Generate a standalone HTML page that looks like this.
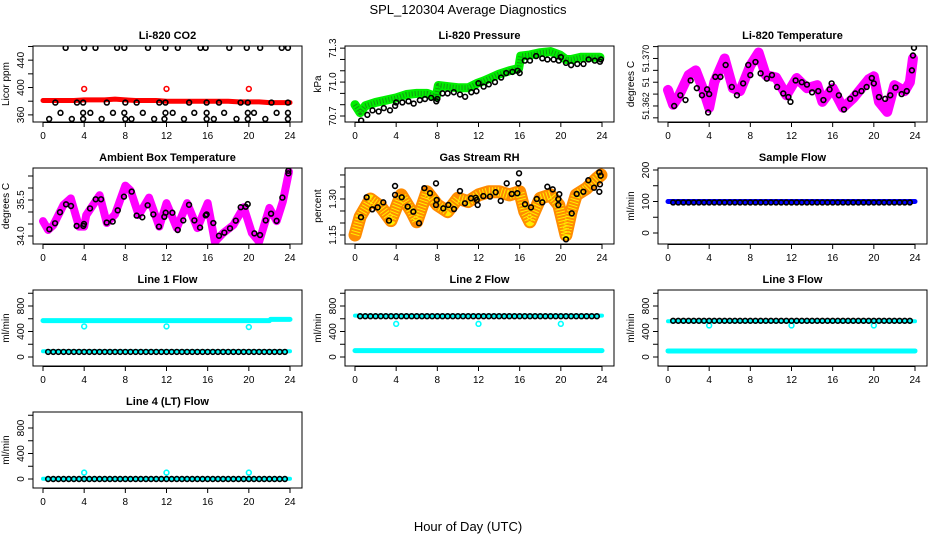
<!DOCTYPE html>
<html><head><meta charset="utf-8"><style>
body{margin:0;background:#fff}
svg{display:block;font-family:"Liberation Sans",sans-serif}
</style></head><body>
<svg id="chart" width="936" height="540" viewBox="0 0 936 540">
<rect width="936" height="540" fill="#fff"/>
<text x="468" y="14" text-anchor="middle" font-size="13">SPL_120304  Average Diagnostics</text>
<text x="468" y="531" text-anchor="middle" font-size="13">Hour of Day (UTC)</text>
</svg>
<script>
// ---------- data ----------
const xTicks=[0,4,8,12,16,20,24];
const T47=[0.5,1,1.5,2,2.5,3,3.5,4,4.5,5,5.5,6,6.5,7,7.5,8,8.5,9,9.5,10,10.5,11,11.5,12,12.5,13,13.5,14,14.5,15,15.5,16,16.5,17,17.5,18,18.5,19,19.5,20,20.5,21,21.5,22,22.5,23,23.5];

const co2RedX=[0,1,2,3,4,5,6,7,8,9,10,11,12,13,14,15,16,17,18,19,20,21,22,23,24];
const co2RedY=[381,381,381,381,382,382,382,383,382,381,381,381,380,380,380,380,380,380,380,379,379,379,378,378,378];
const co2OutX=[4,12,20];
const co2OutY=[398,398,398];
const co2BlackX=[2.2,4.0,5.1,7.2,7.9,10.2,11.9,13.1,15.3,15.8,18.1,19.8,21.1,23.2,23.8,
1.2,3.3,3.9,6.2,8.0,9.1,11.3,11.9,14.2,15.9,17.1,19.2,19.9,22.2,23.8,
1.7,3.9,4.6,6.8,7.9,9.7,11.9,12.6,14.7,15.9,17.6,19.9,20.5,22.7,23.8,
0.6,2.8,3.9,5.7,8.0,8.6,10.8,11.8,13.7,15.9,16.6,18.8,19.9,21.6,23.8];
const co2BlackY=[458,458,458,458,458,458,458,458,458,458,458,458,458,458,458,
378,378,378,378,378,378,378,378,378,378,378,378,378,378,378,
363,363,363,363,363,363,363,363,363,363,363,363,363,363,363,
354,354,354,354,354,354,354,354,354,354,354,354,354,354,354];

const presGreenX=[0,0.5,1,2,3,4,5,6,7,7.9,8.1,9,10,11,11.9,12.5,13,14,15,15.9,16.1,17,18,19,19.9,20.5,21,22,23,23.8];
const presGreenY=[70.80,70.73,70.79,70.82,70.84,70.86,70.89,70.90,70.90,70.87,70.97,70.96,70.95,70.95,70.99,71.01,71.03,71.07,71.10,71.12,71.23,71.24,71.26,71.27,71.24,71.20,71.20,71.22,71.22,71.22];
const presBlackX=[0.6,1.2,1.7,2.3,2.8,3.4,3.9,4.0,4.6,5.2,5.7,6.3,6.8,7.4,7.9,8.0,8.5,9.0,9.6,10.2,10.7,11.3,11.8,12.0,12.5,13.0,13.6,14.2,14.7,15.3,15.8,16.0,16.5,17.0,17.6,18.2,18.7,19.3,19.8,20.0,20.5,21.0,21.6,22.2,22.7,23.3,23.8,23.9];
const presBlackY=[70.66,70.71,70.75,70.74,70.77,70.75,70.79,70.82,70.82,70.83,70.81,70.84,70.85,70.86,70.83,70.85,70.90,70.90,70.91,70.89,70.87,70.91,70.92,70.99,70.96,70.98,71.00,71.04,71.08,71.09,71.10,71.08,71.19,71.19,71.23,71.21,71.20,71.20,71.19,71.22,71.17,71.15,71.16,71.16,71.20,71.19,71.18,71.20];

const tempMagX=[0,0.5,1,2,2.7,3.5,4,4.5,5.5,6.3,7,8,8.8,9.5,10.5,11.5,12.5,13.5,14.5,15,16,17,18,19.5,20,20.5,21.3,22,23,23.5,23.8];
const tempMagY=[51.3647,51.3622,51.3635,51.3672,51.368,51.3644,51.3617,51.366,51.370,51.365,51.3645,51.3688,51.371,51.3672,51.3668,51.3638,51.3667,51.3650,51.3655,51.3627,51.3650,51.3617,51.3633,51.3665,51.3670,51.3627,51.3610,51.3655,51.3645,51.3660,51.370];
const tempBlackX=[0.6,1.2,1.7,2.2,2.8,3.3,3.8,3.9,4.0,4.6,5.1,5.6,6.2,6.7,7.3,7.8,8.0,8.5,9.0,9.6,10.1,10.6,11.2,11.7,11.9,12.4,13.0,13.5,14.0,14.6,15.1,15.7,15.9,16.6,17.1,17.7,18.2,18.8,19.3,19.8,20.0,20.5,21.1,21.6,22.1,22.7,23.2,23.7,23.8,23.9];
const tempBlackY=[51.3620,51.3638,51.3630,51.3663,51.3650,51.3638,51.3648,51.3609,51.3640,51.3669,51.3669,51.3689,51.3652,51.3638,51.3658,51.3689,51.3672,51.3694,51.3675,51.3666,51.3672,51.3652,51.3641,51.3635,51.3627,51.3663,51.3660,51.3656,51.3643,51.3645,51.3630,51.3648,51.3658,51.3638,51.3614,51.3632,51.3641,51.3645,51.3652,51.3667,51.3658,51.3635,51.3632,51.3638,51.3651,51.3640,51.3645,51.3680,51.3705,51.3718];

const ambMagX=[0,0.5,1,2,2.7,3.5,4,4.2,5.5,6.2,7,8,8.5,9.3,10.3,11.3,12,13,14,15,16,16.7,17.5,18.5,19.5,20.3,21,22,22.7,23.3,23.9];
const ambMagY=[34.62,34.25,34.45,35.3,35.57,34.39,34.39,34.87,35.7,34.54,34.9,36.1,35.9,34.87,35.6,34.39,35.37,34.33,35.37,34.33,35.37,33.76,34.12,34.46,35.2,34.12,33.76,35.17,34.62,35.43,36.68];
const ambBlackX=[0.62,1.17,1.65,2.24,2.72,3.27,3.92,3.98,4.57,5.12,5.64,6.19,6.77,7.26,7.87,8.62,9.1,9.65,10.17,10.72,11.27,11.79,11.92,12.57,13.09,13.63,14.19,14.71,15.26,15.81,15.9,16.55,17.1,17.62,18.17,18.73,19.21,19.7,19.89,20.54,21.09,21.64,22.16,22.7,23.26,23.84,23.84];
const ambBlackY=[34.28,34.53,34.99,35.32,35.25,34.42,34.42,34.5,35.15,35.53,35.53,34.56,34.6,35.07,35.64,35.85,34.85,34.78,35.28,34.9,34.39,34.8,34.97,34.97,34.25,34.65,35.3,34.65,34.35,34.86,34.9,34.54,34.01,34.14,34.32,34.64,35.2,35.22,35.33,34.11,34.04,34.65,34.93,34.63,35.6,36.72,36.61];

const rhOrX=[0,0.5,1.5,2.5,3.5,4.5,5.5,6,7,8,9,10,11,12,13,14,15,16,16.5,17,18,19,19.8,20.5,21,21.5,22.5,23.5,23.9];
const rhOrY=[1.15,1.226,1.30,1.268,1.21,1.317,1.247,1.205,1.33,1.275,1.247,1.303,1.289,1.317,1.33,1.33,1.317,1.33,1.247,1.205,1.303,1.317,1.275,1.15,1.247,1.317,1.344,1.386,1.40];
const rhBlackX=[0.58,1.13,1.68,2.2,2.75,3.3,3.89,3.89,4.54,5.12,5.67,6.22,6.74,7.29,7.87,7.87,7.94,8.58,9.07,9.62,10.2,10.69,11.27,11.73,11.83,11.92,12.47,13.12,13.67,14.16,14.74,15.23,15.77,15.87,15.94,16.52,17.1,17.66,18.2,18.69,19.21,19.76,19.76,19.85,20.5,21.06,21.54,22.19,22.67,23.23,23.74,23.8,23.74,23.87];
const rhBlackY=[1.224,1.307,1.257,1.265,1.286,1.21,1.317,1.354,1.307,1.268,1.247,1.199,1.345,1.324,1.365,1.275,1.296,1.261,1.275,1.258,1.333,1.282,1.303,1.305,1.296,1.275,1.312,1.31,1.328,1.292,1.365,1.321,1.324,1.365,1.407,1.278,1.265,1.3,1.286,1.351,1.34,1.3,1.275,1.32,1.132,1.24,1.321,1.33,1.378,1.347,1.33,1.361,1.411,1.397];

const flatX=[0,24];
const sampleBlueY=[100,100];
const sampleBlackY=[97,97,97,97,97,97,97,97,97,97,97,97,97,97,97,97,97,97,97,97,97,97,97,97,97,97,97,97,97,97,97,97,97,97,97,97,97,97,97,97,97,97,97,97,97,97,97];

const l1CyanTopX=[0,22,22.1,24];
const l1CyanTopY=[570,570,590,590];
const l1CyanLowY=[90,90];
const l1BlackY=[80,80,80,80,80,80,80,80,80,80,80,80,80,80,80,80,80,80,80,80,80,80,80,80,80,80,80,80,80,80,80,80,80,80,80,80,80,80,80,80,80,80,80,80,80,80,80];
const l1OutY=[480,480,470];

const l2CyanTopY=[650,650];
const l2CyanLowY=[100,100];
const l2BlackY=[640,640,640,640,640,640,640,640,640,640,640,640,640,640,640,640,640,640,640,640,640,640,640,640,640,640,640,640,640,640,640,640,640,640,640,640,640,640,640,640,640,640,640,640,640,640,640];
const l2OutY=[520,520,520];

const l3CyanTopY=[560,560];
const l3CyanLowY=[95,95];
const l3BlackY=[568,568,568,568,568,568,568,568,568,568,568,568,568,568,568,568,568,568,568,568,568,568,568,568,568,568,568,568,568,568,568,568,568,568,568,568,568,568,568,568,568,568,568,568,568,568,568];
const l3OutY=[495,495,495];

const l4CyanY=[5,5];
const l4BlackY=[0,0,0,0,0,0,0,0,0,0,0,0,0,0,0,0,0,0,0,0,0,0,0,0,0,0,0,0,0,0,0,0,0,0,0,0,0,0,0,0,0,0,0,0,0,0,0];
const l4OutY=[100,100,100];
const outX=[4,12,20];

// ---------- drawing ----------
const NS="http://www.w3.org/2000/svg";
const svg=document.getElementById('chart');
const COLX=[43,355,668], ROWT=[46,168,290,412], PH=76, PW=247;
function mk(tag,attrs,parent){const e=document.createElementNS(NS,tag);for(const k in attrs)e.setAttribute(k,attrs[k]);(parent||svg).appendChild(e);return e;}

function panel(cfg){
  const x0=COLX[cfg.c], top=ROWT[cfg.r], bot=top+PH;
  const g=mk('g',{});
  
  
  const sx=h=>x0+h/24*PW;
  const sy=v=>bot-(v-cfg.ymin)/(cfg.ymax-cfg.ymin)*PH;
  const left=x0-10,right=x0+259;
  const t=mk('text',{x:(left+right)/2,y:top-7,'text-anchor':'middle','font-size':11,'font-weight':'bold'},g);
  t.textContent=cfg.title;
  
  
  xTicks.forEach(h=>{
    mk('line',{x1:sx(h),x2:sx(h),y1:bot,y2:bot+5,stroke:'#000'},g);
    const l=mk('text',{x:sx(h),y:bot+17,'text-anchor':'middle','font-size':10},g);
    l.textContent=h;
    
    
  });
  mk('line',{x1:sx(0),x2:sx(24),y1:bot+0.5,y2:bot+0.5,stroke:'#000'},g);
  cfg.yTicks.forEach(v=>mk('line',{x1:left-5,x2:left,y1:sy(v),y2:sy(v),stroke:'#000'},g));
  cfg.yLabels.forEach((v,i)=>{
    const yy=sy(v);
    const l=mk('text',{x:left-9,y:yy,'text-anchor':'middle','font-size':cfg.yfs||10,transform:`rotate(-90 ${left-9} ${yy})`},g);
    l.textContent=cfg.yLabelText?cfg.yLabelText[i]:v;
    
    
  });
  const yt=mk('text',{x:left-24,y:(top+bot)/2,'text-anchor':'middle','font-size':10,transform:`rotate(-90 ${left-24} ${(top+bot)/2})`},g);
  yt.textContent=cfg.ylab;
  
  
  const cid='clip'+cfg.c+cfg.r;
  const cp=mk('clipPath',{id:cid},g);
  mk('rect',{x:left,y:top,width:right-left,height:PH},cp);
  const pg=mk('g',{'clip-path':`url(#${cid})`},g);
  cfg.series.forEach(s=>{
    if(s.type==='band'){
      const pts=s.x.map((h,i)=>sx(h)+','+sy(s.y[i])).join(' ');
      const pl=mk('polyline',{points:pts,fill:'none',stroke:s.color,'stroke-width':s.w,'stroke-linejoin':'round','stroke-linecap':'round'},pg);
      
      
      if(s.dot){mk('polyline',{points:pts,fill:'none',stroke:s.dot,'stroke-width':s.w-4,'stroke-dasharray':'1 2','stroke-linejoin':'round'},pg);}
    } else {
      s.x.forEach((h,i)=>{
        const c=mk('circle',{cx:sx(h),cy:sy(s.y[i]),r:s.r||2.4,fill:'none',stroke:s.color,'stroke-width':1.6},pg);
        
        
      });
    }
  });
  mk('rect',{x:left,y:top,width:right-left,height:PH,fill:'none',stroke:'#000','stroke-width':1},g);
}

const flowTicks=[0,200,400,600,800,1000], flowLabels=[0,400,800];
panel({name:'co2-panel',title:'Li-820 CO2',c:0,r:0,ymin:349.6,ymax:460.7,yTicks:[360,380,400,420,440,460],yLabels:[360,400,440],ylab:'Licor ppm',
  series:[{type:'band',x:co2RedX,y:co2RedY,color:'#ff0000',w:5,name:'co2-red-band'},{type:'pts',x:co2OutX,y:co2OutY,color:'#ff0000',name:'co2-red-point'},{type:'pts',x:co2BlackX,y:co2BlackY,color:'#000',name:'co2-black-point'}]});
panel({name:'pressure-panel',title:'Li-820 Pressure',c:1,r:0,ymin:70.647,ymax:71.319,yTicks:[70.7,70.8,70.9,71.0,71.1,71.2,71.3],yLabels:[70.7,71.0,71.3],yLabelText:['70.7','71.0','71.3'],ylab:'kPa',
  series:[{type:'band',x:presGreenX,y:presGreenY,color:'#00ee00',w:9,dot:'#119911',name:'pressure-green-band'},{type:'pts',x:presBlackX,y:presBlackY,color:'#000',name:'pressure-black-point'}]});
panel({name:'temperature-panel',title:'Li-820 Temperature',c:2,r:0,ymin:51.3593,ymax:51.3721,yfs:9,yTicks:[51.360,51.362,51.364,51.366,51.368,51.370,51.372],yLabels:[51.362,51.366,51.370],yLabelText:['51.362','51','51.370'],ylab:'degrees C',
  series:[{type:'band',x:tempMagX,y:tempMagY,color:'#ff00ff',w:10,name:'temperature-magenta-band'},{type:'pts',x:tempBlackX,y:tempBlackY,color:'#000',name:'temperature-black-point'}]});
panel({name:'ambient-panel',title:'Ambient Box Temperature',c:0,r:1,ymin:33.667,ymax:36.833,yTicks:[34,34.5,35,35.5,36,36.5],yLabels:[34,35.5],yLabelText:['34.0','35.5'],ylab:'degrees C',
  series:[{type:'band',x:ambMagX,y:ambMagY,color:'#ff00ff',w:8,name:'ambient-magenta-band'},{type:'pts',x:ambBlackX,y:ambBlackY,color:'#000',name:'ambient-black-point'}]});
panel({name:'rh-panel',title:'Gas Stream RH',c:1,r:1,ymin:1.1125,ymax:1.429,yTicks:[1.15,1.2,1.25,1.3,1.35,1.4],yLabels:[1.15,1.30],yLabelText:['1.15','1.30'],ylab:'percent',
  series:[{type:'band',x:rhOrX,y:rhOrY,color:'#ff8c00',w:13,dot:'#ffee00',name:'rh-orange-band'},{type:'pts',x:rhBlackX,y:rhBlackY,color:'#000',name:'rh-black-point'}]});
panel({name:'sample-flow-panel',title:'Sample Flow',c:2,r:1,ymin:-34.9,ymax:206.3,yTicks:[0,50,100,150,200],yLabels:[0,100,200],ylab:'ml/min',
  series:[{type:'band',x:flatX,y:sampleBlueY,color:'#0000ff',w:5,name:'sample-blue-band'},{type:'pts',x:T47,y:sampleBlackY,color:'#000',name:'sample-black-point'}]});
panel({name:'line1-panel',title:'Line 1 Flow',c:0,r:2,ymin:-141,ymax:1051,yTicks:flowTicks,yLabels:flowLabels,ylab:'ml/min',
  series:[{type:'band',x:l1CyanTopX,y:l1CyanTopY,color:'#00ffff',w:5,name:'line1-cyan-high'},{type:'band',x:flatX,y:l1CyanLowY,color:'#00ffff',w:4,name:'line1-cyan-low'},{type:'pts',x:outX,y:l1OutY,color:'#00ffff',name:'line1-cyan-point'},{type:'pts',x:T47,y:l1BlackY,color:'#000',name:'line1-black-point'}]});
panel({name:'line2-panel',title:'Line 2 Flow',c:1,r:2,ymin:-141,ymax:1051,yTicks:flowTicks,yLabels:flowLabels,ylab:'ml/min',
  series:[{type:'band',x:flatX,y:l2CyanTopY,color:'#00ffff',w:4,name:'line2-cyan-high'},{type:'band',x:flatX,y:l2CyanLowY,color:'#00ffff',w:5,name:'line2-cyan-low'},{type:'pts',x:outX,y:l2OutY,color:'#00ffff',name:'line2-cyan-point'},{type:'pts',x:T47,y:l2BlackY,color:'#000',name:'line2-black-point'}]});
panel({name:'line3-panel',title:'Line 3 Flow',c:2,r:2,ymin:-141,ymax:1051,yTicks:flowTicks,yLabels:flowLabels,ylab:'ml/min',
  series:[{type:'band',x:flatX,y:l3CyanTopY,color:'#00ffff',w:4,name:'line3-cyan-high'},{type:'band',x:flatX,y:l3CyanLowY,color:'#00ffff',w:5,name:'line3-cyan-low'},{type:'pts',x:outX,y:l3OutY,color:'#00ffff',name:'line3-cyan-point'},{type:'pts',x:T47,y:l3BlackY,color:'#000',name:'line3-black-point'}]});
panel({name:'line4-panel',title:'Line 4 (LT) Flow',c:0,r:3,ymin:-141,ymax:1051,yTicks:flowTicks,yLabels:flowLabels,ylab:'ml/min',
  series:[{type:'band',x:flatX,y:l4CyanY,color:'#00ffff',w:4,name:'line4-cyan-band'},{type:'pts',x:outX,y:l4OutY,color:'#00ffff',name:'line4-cyan-point'},{type:'pts',x:T47,y:l4BlackY,color:'#000',name:'line4-black-point'}]});
</script>
</body></html>
